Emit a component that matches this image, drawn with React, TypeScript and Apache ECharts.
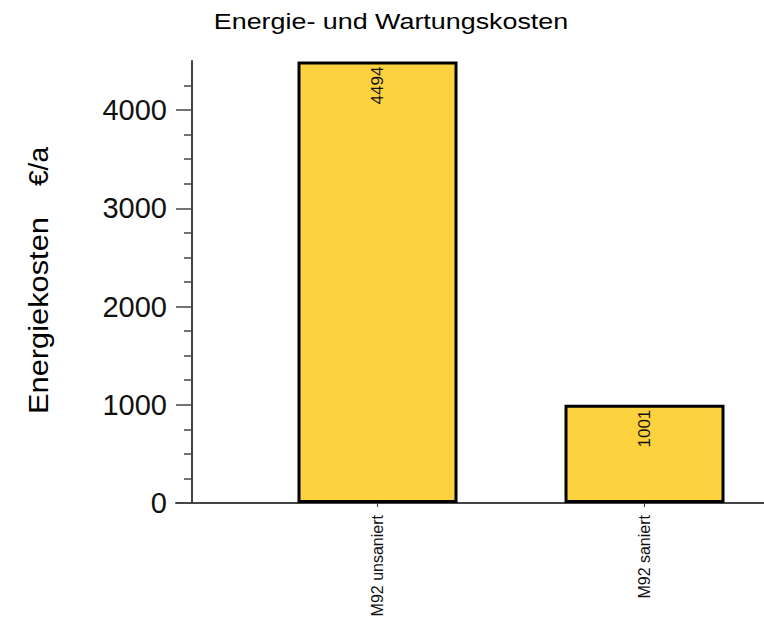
import React, { useEffect, useRef } from "react";
import * as echarts from "echarts";

const chartTitle = "Energie- und Wartungskosten";
const yAxisTitle = "Energiekosten";
const yAxisUnit = "€/a";
const categories = ["M92 unsaniert", "M92 saniert"];
const categoryPositions = [1, 2];
const costs = [4494, 1001];
const yTickValues = [0, 1000, 2000, 3000, 4000];
const yMinorTickValues = [250, 500, 750, 1250, 1500, 1750, 2250, 2500, 2750, 3250, 3500, 3750, 4250];

const FONT = "Liberation Sans, Arial, sans-serif";

export default function App() {
  const ref = useRef<HTMLDivElement>(null);
  useEffect(() => {
    if (!ref.current) return;
    const chart = echarts.init(ref.current, undefined, { renderer: "svg" });
    chart.setOption({
      animation: false,
      backgroundColor: "#ffffff",
      graphic: [
        {
          type: "text",
          x: 391,
          y: 21,
          scaleX: 1.25,
          style: {
            text: chartTitle,
            fontSize: 21.5,
            fontFamily: FONT,
            fill: "#000",
            textAlign: "center",
            textVerticalAlign: "middle",
          },
        },
        {
          type: "text",
          x: 38,
          y: 315.5,
          rotation: Math.PI / 2,
          scaleX: 1.1,
          style: {
            text: yAxisTitle,
            fontSize: 28,
            fontFamily: FONT,
            fill: "#000",
            textAlign: "center",
            textVerticalAlign: "middle",
          },
        },
        {
          type: "text",
          x: 38,
          y: 166.5,
          rotation: Math.PI / 2,
          style: {
            text: yAxisUnit,
            fontSize: 28,
            fontFamily: FONT,
            fill: "#000",
            textAlign: "center",
            textVerticalAlign: "middle",
          },
        },
      ],
      grid: {
        left: 176,
        right: 0,
        top: 61,
        bottom: 114,
        containLabel: false,
        outerBoundsMode: "none",
      },
      xAxis: {
        type: "value",
        min: 0.2453,
        max: 2.4475,
        splitLine: { show: false },
        axisLine: { show: true, lineStyle: { color: "#444", width: 2 } },
        axisTick: {
          show: true,
          length: 4,
          customValues: categoryPositions,
          lineStyle: { color: "#333", width: 1 },
        },
        axisLabel: {
          customValues: categoryPositions,
          rotate: 90,
          margin: 12,
          fontSize: 16,
          fontFamily: FONT,
          color: "#111",
          formatter: (v: number) => categories[Math.round(v) - 1] ?? "",
        },
      },
      yAxis: [
        {
          type: "value",
          min: 0,
          max: 4500,
          offset: -16,
          position: "left",
          splitLine: { show: false },
          axisLine: { show: true, lineStyle: { color: "#444", width: 2 } },
          axisTick: {
            show: true,
            length: 16,
            customValues: yTickValues,
            lineStyle: { color: "#444", width: 1.5 },
          },
          axisLabel: {
            customValues: yTickValues,
            margin: 25,
            fontSize: 29,
            fontFamily: FONT,
            color: "#111",
            formatter: (v: number) => String(v),
          },
        },
        {
          type: "value",
          min: 0,
          max: 4500,
          offset: -16,
          position: "left",
          splitLine: { show: false },
          axisLine: { show: false },
          axisTick: {
            show: true,
            length: 8,
            customValues: yMinorTickValues,
            lineStyle: { color: "#444", width: 1.5 },
          },
          axisLabel: { show: false },
        },
      ],
      series: [
        {
          type: "bar",
          yAxisIndex: 0,
          barWidth: 160,
          data: costs.map((v, i) => [categoryPositions[i], v]),
          itemStyle: {
            color: "#FED23F",
            borderColor: "#000",
            borderWidth: 3,
          },
          label: {
            show: true,
            position: "insideTop",
            distance: 5,
            rotate: 90,
            align: "right",
            verticalAlign: "middle",
            fontSize: 17,
            fontFamily: FONT,
            color: "#111",
            formatter: (p: any) => String(p.value[1]),
          },
        },
      ],
    });
    return () => chart.dispose();
  }, []);
  return (
    <div
      ref={ref}
      style={{ position: "fixed", left: 0, top: 0, width: 764, height: 617 }}
    />
  );
}
